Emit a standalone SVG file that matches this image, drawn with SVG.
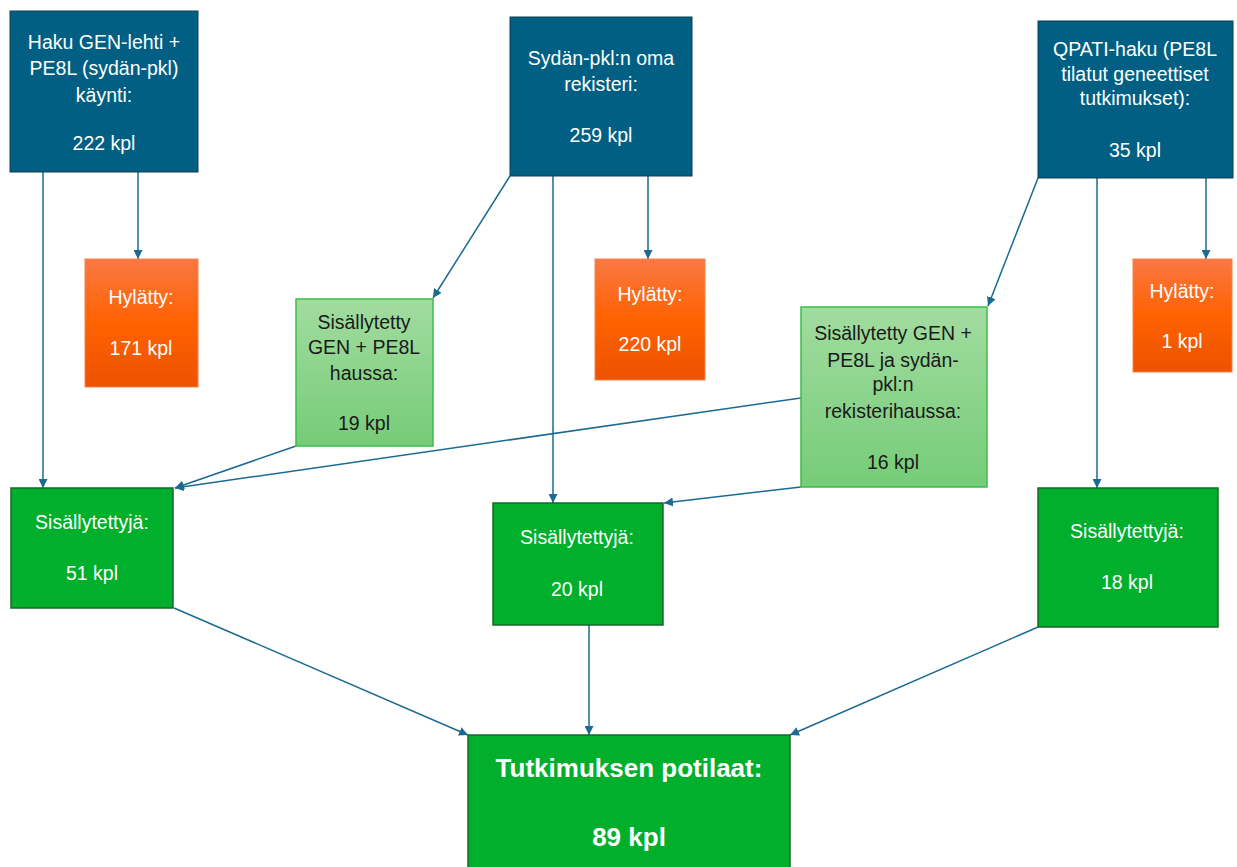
<svg xmlns="http://www.w3.org/2000/svg" width="1237" height="867" viewBox="0 0 1237 867">
<defs>
<linearGradient id="gOr" x1="0" y1="0" x2="0" y2="1">
<stop offset="0" stop-color="#F97845"/>
<stop offset="0.5" stop-color="#FF6200"/>
<stop offset="1" stop-color="#EC5200"/>
</linearGradient>
<linearGradient id="gLg" x1="0" y1="0" x2="0" y2="1">
<stop offset="0" stop-color="#A2DCA0"/>
<stop offset="1" stop-color="#76CC78"/>
</linearGradient>
<marker id="ah" viewBox="0 0 10 10" refX="10" refY="5" markerWidth="9" markerHeight="9" markerUnits="userSpaceOnUse" orient="auto">
<path d="M0,0 L10,5 L0,10 z" fill="#1B6A92"/>
</marker>
</defs>
<style>
.blue{fill:#005F82;stroke:#0E3E55;stroke-width:1}
.or{fill:url(#gOr);stroke:#F5824F;stroke-width:1}
.lg{fill:url(#gLg);stroke:#3CBD4A;stroke-width:1.5}
.gr{fill:#00AF2C;stroke:#17692A;stroke-width:1.5}
text{font-family:"Liberation Sans",Arial,sans-serif;font-size:19.5px;text-anchor:middle;dominant-baseline:central}
.w{fill:#ffffff}
.k{fill:#1a1a1a}
.big{font-size:26px;font-weight:bold}
.c line{stroke:#1B6A92;stroke-width:1.5;marker-end:url(#ah)}
</style>
<rect width="1237" height="867" fill="#ffffff"/>
<g class="c" id="connectors">
<line x1="43" y1="172" x2="43" y2="488"/>
<line x1="138" y1="172" x2="138" y2="259"/>
<line x1="510" y1="176" x2="433" y2="298"/>
<line x1="553" y1="176" x2="553" y2="503"/>
<line x1="648" y1="176" x2="648" y2="259"/>
<line x1="1038" y1="178" x2="988" y2="306"/>
<line x1="1097" y1="178" x2="1097" y2="488"/>
<line x1="1206" y1="178" x2="1206" y2="259"/>
<line x1="296" y1="446" x2="175" y2="488"/>
<line x1="801" y1="398" x2="175" y2="488"/>
<line x1="801" y1="487" x2="664" y2="503"/>
<line x1="174" y1="608" x2="468" y2="735"/>
<line x1="589" y1="625" x2="589" y2="735"/>
<line x1="1038" y1="627" x2="790" y2="735"/>
</g>
<g id="n1">
<rect class="blue" x="10" y="11" width="188" height="161"/>
<text class="w" x="104" y="42">Haku GEN-lehti +</text>
<text class="w" x="104" y="68">PE8L (sydän-pkl)</text>
<text class="w" x="104" y="95">käynti:</text>
<text class="w" x="104" y="143">222 kpl</text>
</g>
<g id="n2">
<rect class="blue" x="510" y="17" width="182" height="159"/>
<text class="w" x="601" y="58">Sydän-pkl:n oma</text>
<text class="w" x="601" y="84">rekisteri:</text>
<text class="w" x="601" y="135">259 kpl</text>
</g>
<g id="n3">
<rect class="blue" x="1038" y="21" width="195" height="157"/>
<text class="w" x="1135" y="49">QPATI-haku (PE8L</text>
<text class="w" x="1135" y="74">tilatut geneettiset</text>
<text class="w" x="1135" y="98">tutkimukset):</text>
<text class="w" x="1135" y="150">35 kpl</text>
</g>
<g id="h1">
<rect class="or" x="85" y="259" width="113" height="128"/>
<text class="w" x="141" y="297">Hylätty:</text>
<text class="w" x="141" y="348">171 kpl</text>
</g>
<g id="h2">
<rect class="or" x="595" y="259" width="110" height="121"/>
<text class="w" x="650" y="294">Hylätty:</text>
<text class="w" x="650" y="344">220 kpl</text>
</g>
<g id="h3">
<rect class="or" x="1133" y="259" width="99" height="113"/>
<text class="w" x="1182" y="291">Hylätty:</text>
<text class="w" x="1182" y="341">1 kpl</text>
</g>
<g id="lg1">
<rect class="lg" x="296" y="299" width="137" height="147"/>
<text class="k" x="364" y="322">Sisällytetty</text>
<text class="k" x="364" y="347">GEN + PE8L</text>
<text class="k" x="364" y="373">haussa:</text>
<text class="k" x="364" y="423">19 kpl</text>
</g>
<g id="lg2">
<rect class="lg" x="801" y="307" width="186" height="180"/>
<text class="k" x="893" y="333">Sisällytetty GEN +</text>
<text class="k" x="893" y="360">PE8L ja sydän-</text>
<text class="k" x="893" y="384">pkl:n</text>
<text class="k" x="893" y="411">rekisterihaussa:</text>
<text class="k" x="893" y="462">16 kpl</text>
</g>
<g id="s1">
<rect class="gr" x="11" y="488" width="162" height="120"/>
<text class="w" x="92" y="522">Sisällytettyjä:</text>
<text class="w" x="92" y="573">51 kpl</text>
</g>
<g id="s2">
<rect class="gr" x="493" y="503" width="170" height="122"/>
<text class="w" x="577" y="537">Sisällytettyjä:</text>
<text class="w" x="577" y="589">20 kpl</text>
</g>
<g id="s3">
<rect class="gr" x="1038" y="488" width="180" height="139"/>
<text class="w" x="1127" y="531">Sisällytettyjä:</text>
<text class="w" x="1127" y="582">18 kpl</text>
</g>
<g id="final">
<rect class="gr" x="468" y="735" width="322" height="140"/>
<text class="w big" x="629" y="768">Tutkimuksen potilaat:</text>
<text class="w big" x="629" y="837">89 kpl</text>
</g>
</svg>
